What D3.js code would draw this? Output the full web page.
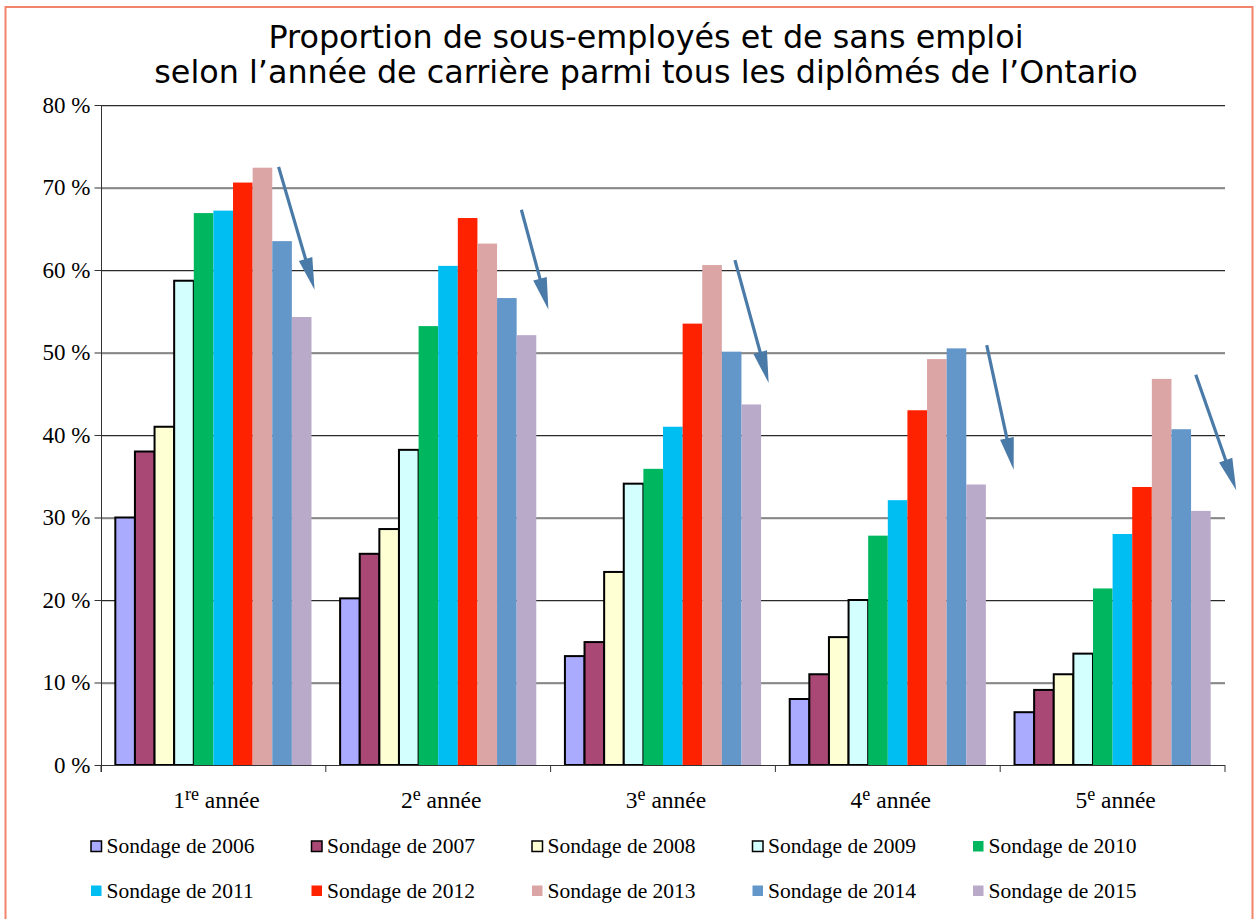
<!DOCTYPE html>
<html>
<head>
<meta charset="utf-8">
<script src="https://cdn.jsdelivr.net/npm/d3@7"></script>
<style>
body { margin: 0; background: #fff; }
text { font-family: 'Liberation Serif', 'Times New Roman', serif; fill: #000; }
.title { font-family: 'DejaVu Sans', Verdana, sans-serif; }
</style>
</head>
<body>
<div id="chart"></div>
<script>
//Categories: year of career (number + French ordinal suffix)
var careerYears = ["1", "2", "3", "4", "5"];
var ordinalSuffix = ["re", "e", "e", "e", "e"];

//Survey years (series)
var surveys = ["2006", "2007", "2008", "2009", "2010", "2011", "2012", "2013", "2014", "2015"];
var surveyColors = ["#aaaaff", "#a94874", "#ffffd4", "#d4ffff", "#00b75f",
	"#00bef2", "#ff2200", "#daa5a4", "#6497c9", "#b9aac9"];
var outlined = [true, true, true, true, false, false, false, false, false, false];

//Values (%) for each year of career, one per survey
var year1 = [30.0, 38.0, 41.0, 58.7, 66.9, 67.2, 70.6, 72.4, 63.5, 54.3];
var year2 = [20.2, 25.6, 28.6, 38.2, 53.2, 60.5, 66.3, 63.2, 56.6, 52.1];
var year3 = [13.2, 14.9, 23.4, 34.1, 35.9, 41.0, 53.5, 60.6, 50.1, 43.7];
var year4 = [8.0, 11.0, 15.5, 20.0, 27.8, 32.1, 43.0, 49.2, 50.5, 34.0];
var year5 = [6.4, 9.1, 11.0, 13.5, 21.4, 28.0, 33.7, 46.8, 40.7, 30.8];
var values = [year1, year2, year3, year4, year5];

//Y axis ticks
var yTicks = [0, 10, 20, 30, 40, 50, 60, 70, 80];

//Trend arrows drawn over each group (value at start / at tip)
var arrowFrom = [72.5, 67.3, 61.2, 50.9, 47.3];
var arrowTo = [57.6, 55.2, 46.3, 35.8, 33.3];

var w = 1255, h = 919;
var plotLeft = 101, plotRight = 1225, plotTop = 105, plotBottom = 765;
var serif = "'Liberation Serif', 'Times New Roman', serif";

var svg = d3.select("#chart").append("svg")
	.attr("width", w)
	.attr("height", h);

//Frame
svg.append("rect")
	.attr("x", 5.5).attr("y", 7)
	.attr("width", 1247).attr("height", 930)
	.attr("fill", "none")
	.attr("stroke", "#f3846c")
	.attr("stroke-width", 2);

//Title
var title = svg.append("text")
	.attr("class", "title")
	.attr("text-anchor", "middle")
	.style("font-size", "31.8px");
title.append("tspan").attr("x", 646).attr("y", 48).text("Proportion de sous-employés et de sans emploi");
title.append("tspan").attr("x", 646).attr("y", 83).text("selon l\u2019année de carrière parmi tous les diplômés de l\u2019Ontario");

//Scales
var x0 = d3.scaleBand().domain(careerYears).range([plotLeft, plotRight]);
var x1 = d3.scaleBand().domain(surveys).range([0, x0.bandwidth()]).paddingOuter(0.73);
var y = d3.scaleLinear().domain([0, 80]).range([plotBottom, plotTop]);

//Gridlines
var gridTicks = yTicks.filter(function(d){ return d > 0; });
svg.append("g").selectAll("line")
	.data(gridTicks)
	.enter().append("line")
	.attr("x1", plotLeft).attr("x2", plotRight)
	.attr("y1", function(d){ return y(d) + 1.5; })
	.attr("y2", function(d){ return y(d) + 1.5; })
	.attr("stroke", "#c8c8c8").attr("stroke-width", 1);
svg.append("g").selectAll("line")
	.data(gridTicks)
	.enter().append("line")
	.attr("x1", plotLeft).attr("x2", plotRight)
	.attr("y1", function(d){ return y(d) + 0.5; })
	.attr("y2", function(d){ return y(d) + 0.5; })
	.attr("stroke", "#2a2a2a").attr("stroke-width", 1);

//Bars
var groups = svg.append("g").selectAll("g")
	.data(careerYears)
	.enter().append("g")
	.attr("transform", function(d){ return "translate(" + x0(d) + ",0)"; });

groups.selectAll("rect")
	.data(function(d, i){ return values[i].map(function(v, j){ return {s: surveys[j], v: v, j: j}; }); })
	.enter().append("rect")
	.attr("x", function(d){ return x1(d.s); })
	.attr("width", x1.bandwidth())
	.attr("y", function(d){ return y(d.v); })
	.attr("height", function(d){ return plotBottom - y(d.v); })
	.attr("fill", function(d){ return surveyColors[d.j]; })
	.attr("stroke", function(d){ return outlined[d.j] ? "#000" : "none"; })
	.attr("stroke-width", 2);

//Axes
var yAxis = svg.append("g").attr("transform", "translate(" + (plotLeft + 0.5) + ",0)")
	.call(d3.axisLeft(y).tickValues(yTicks).tickSize(7).tickFormat(function(d){ return d + " %"; }))
	.attr("font-family", serif)
	.attr("font-size", 23);
yAxis.select(".domain").attr("stroke", "#333").attr("d", "M0," + plotTop + "V" + (plotBottom + 7));
yAxis.selectAll(".tick line").attr("stroke", "#333");
yAxis.selectAll(".tick text")
	.attr("x", -11)
	.style("font-family", serif)
	.style("font-size", "23px")
	.attr("fill", "#000");

svg.append("line")
	.attr("x1", plotLeft).attr("x2", plotRight)
	.attr("y1", plotBottom + 0.5).attr("y2", plotBottom + 0.5)
	.attr("stroke", "#333");
svg.append("g").selectAll("line")
	.data(careerYears.concat(["end"]))
	.enter().append("line")
	.attr("x1", function(d){ return d === "end" ? plotRight : x0(d); })
	.attr("x2", function(d){ return d === "end" ? plotRight : x0(d); })
	.attr("y1", plotBottom).attr("y2", plotBottom + 7)
	.attr("stroke", "#333");

//X labels with superscript
var xl = svg.append("g").selectAll("text")
	.data(careerYears)
	.enter().append("text")
	.attr("x", function(d){ return x0(d) + x0.bandwidth() / 2 + 3; })
	.attr("y", 808)
	.attr("text-anchor", "middle")
	.style("font-size", "23.5px");
xl.append("tspan").text(function(d){ return d; });
xl.append("tspan").attr("dy", -8).style("font-size", "18px").text(function(d, i){ return ordinalSuffix[i]; });
xl.append("tspan").attr("dy", 8).text(" année");

//Arrows: shaft + long narrow head
var arrowStart = [0.79, 0.87, 0.82, 0.94, 0.87];
var arrowEnd = [0.95, 0.99, 0.97, 1.06, 1.05];
var headLen = 32, headHalf = 7;
var arrows = svg.append("g").selectAll("g")
	.data(careerYears.map(function(d, i){
		var xa = x0(d) + arrowStart[i] * x0.bandwidth(), ya = y(arrowFrom[i]);
		var xb = x0(d) + arrowEnd[i] * x0.bandwidth(), yb = y(arrowTo[i]);
		var len = Math.sqrt((xb - xa) * (xb - xa) + (yb - ya) * (yb - ya));
		return {xa: xa, ya: ya, xb: xb, yb: yb, ux: (xb - xa) / len, uy: (yb - ya) / len};
	}))
	.enter().append("g");
arrows.append("line")
	.attr("x1", function(d){ return d.xa; })
	.attr("y1", function(d){ return d.ya; })
	.attr("x2", function(d){ return d.xb - d.ux * headLen * 0.6; })
	.attr("y2", function(d){ return d.yb - d.uy * headLen * 0.6; })
	.attr("stroke", "#4a7aa8")
	.attr("stroke-width", 3.2);
arrows.append("path")
	.attr("d", function(d){
		var bx = d.xb - d.ux * headLen, by = d.yb - d.uy * headLen;
		return "M" + d.xb + "," + d.yb +
			"L" + (bx - d.uy * headHalf) + "," + (by + d.ux * headHalf) +
			"L" + (bx + d.uy * headHalf) + "," + (by - d.ux * headHalf) + "Z";
	})
	.attr("fill", "#4a7aa8");

//Legend
var legend = svg.append("g").selectAll("g")
	.data(surveys)
	.enter().append("g")
	.attr("transform", function(d, i){ return "translate(" + (91 + (i % 5) * 220.5) + "," + (841 + Math.floor(i / 5) * 44.5) + ")"; });
legend.append("rect")
	.attr("width", 10.5).attr("height", 10.5)
	.attr("fill", function(d, i){ return surveyColors[i]; })
	.attr("stroke", function(d, i){ return outlined[i] ? "#000" : "none"; })
	.attr("stroke-width", 1.5);
legend.append("text")
	.attr("x", 15.5).attr("y", 12)
	.style("font-size", "21.5px")
	.text(function(d){ return "Sondage de " + d; });
</script>
</body>
</html>
